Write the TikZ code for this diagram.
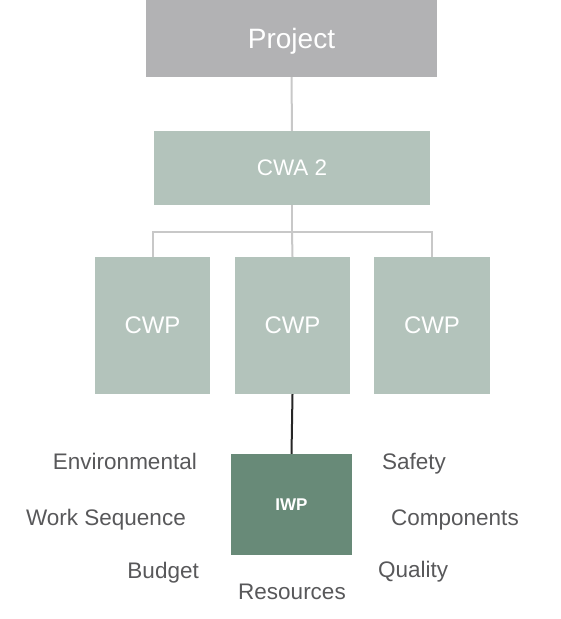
\documentclass[tikz,border=0pt]{standalone}
\usepackage{fontspec}
\setmainfont{Liberation Sans}
\definecolor{projgray}{HTML}{B2B2B4}
\definecolor{cwgreen}{HTML}{B3C3BB}
\definecolor{iwpgreen}{HTML}{688A78}
\definecolor{linegray}{HTML}{C8C8C8}
\definecolor{labelgray}{HTML}{58585A}
\tikzset{
  box/.style={fill=cwgreen, text=white, inner sep=0pt},
  lbl/.style={text=labelgray, inner sep=0pt, font=\fontsize{22.5}{26}\selectfont},
  link/.style={draw=linegray, line width=2pt}
}
\begin{document}
\begin{tikzpicture}[x=1pt, y=-1pt]
\useasboundingbox (0,0) rectangle (561,619);
% top levels
\node[box, fill=projgray, minimum width=291pt, minimum height=77pt, text depth=0pt, font=\fontsize{28}{32}\selectfont] (proj) at (291.5,38.5) {Project};
\node[box, minimum width=276pt, minimum height=74pt, font=\fontsize{22.5}{26}\selectfont] (cwa) at (292,168) {CWA 2};
% work packages
\node[box, minimum width=115pt, minimum height=137pt, font=\fontsize{24}{28}\selectfont] (cwpA) at (152.5,325.5) {CWP};
\node[box, minimum width=115pt, minimum height=137pt, font=\fontsize{24}{28}\selectfont] (cwpB) at (292.5,325.5) {CWP};
\node[box, minimum width=116pt, minimum height=137pt, font=\fontsize{24}{28}\selectfont] (cwpC) at (432,325.5) {CWP};
\node[box, fill=iwpgreen, minimum width=121pt, minimum height=101pt, font=\fontsize{17}{20}\selectfont\bfseries] (iwp) at (291.5,504.5) {IWP};
\coordinate (fork) at (292,232);
% connectors
\draw[link] (proj.south) -- (cwa.north);
\draw[link] (cwa.south) -- (fork);
\draw[link] (cwpA.north) |- (fork) -| (cwpC.north);
\draw[link] (fork) -- (cwpB.north);
\draw[line width=2pt, draw=black!85] (cwpB.south) -- (iwp.north);
% attributes
\node[lbl, anchor=base east] (env) at (197,469) {Environmental};
\node[lbl, anchor=base east] (seq) at (186,525) {Work Sequence};
\node[lbl, anchor=base east] (bud) at (199,578) {Budget};
\node[lbl, anchor=base] (res) at (292,599) {Resources};
\node[lbl, anchor=base west] (saf) at (382,469) {Safety};
\node[lbl, anchor=base west] (comp) at (391,525) {Components};
\node[lbl, anchor=base west] (qual) at (378,577) {Quality};
\end{tikzpicture}
\end{document}
